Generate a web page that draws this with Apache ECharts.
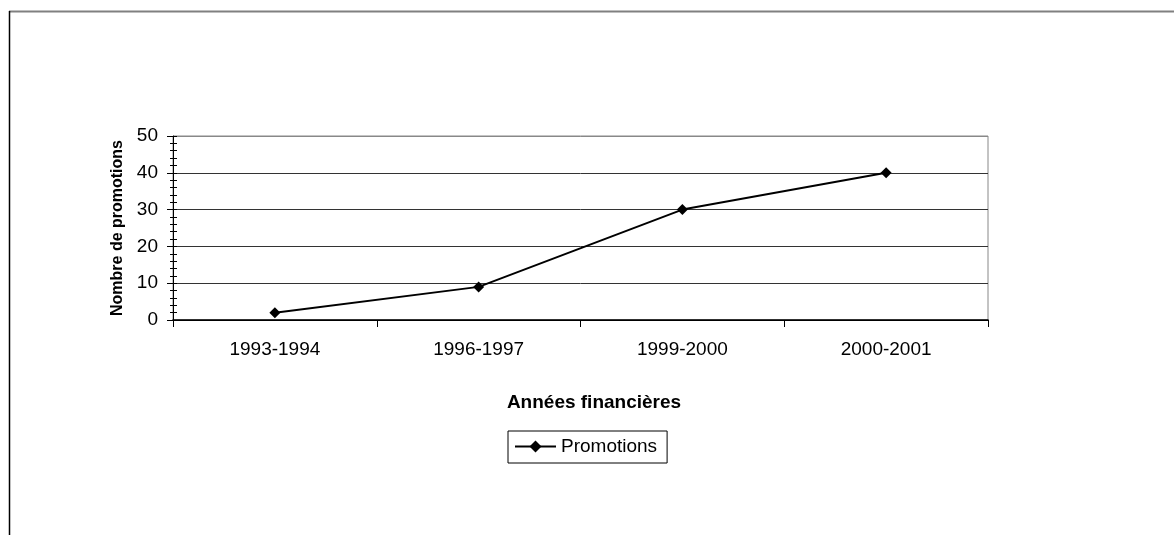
<!DOCTYPE html>
<html>
<head>
<meta charset="utf-8">
<title>Promotions</title>
<script src="https://cdn.jsdelivr.net/npm/echarts@6/dist/echarts.min.js"></script>
<style>
  html, body { margin: 0; padding: 0; background: #fff; }
  #chart { width: 1174px; height: 535px; }
</style>
</head>
<body>
<div id="chart"></div>
<script>
// data
var categories = ['1993-1994', '1996-1997', '1999-2000', '2000-2001'];
var promotions = [2, 9, 30, 40];
var seriesName = 'Promotions';
var yMin = 0, yMax = 50, yStep = 10;

var chart = echarts.init(document.getElementById('chart'));
var font = '"Liberation Sans", Arial, sans-serif';

var option = {
  animation: false,
  textStyle: { fontFamily: font, color: '#000' },
  grid: {
    left: 173, right: 186, top: 136, bottom: 215,
    show: true, borderColor: '#888', borderWidth: 1
  },
  graphic: [
    { type: 'line', shape: { x1: 9, y1: 11.5, x2: 1174, y2: 11.5 }, style: { stroke: '#808080', lineWidth: 2 } },
    { type: 'line', shape: { x1: 9.5, y1: 11, x2: 9.5, y2: 535 }, style: { stroke: '#000', lineWidth: 1.5 } }
  ],
  xAxis: {
    type: 'category',
    data: categories,
    boundaryGap: true,
    name: 'Années financières',
    nameLocation: 'middle',
    nameGap: 73,
    nameTextStyle: { fontFamily: font, fontWeight: 'bold', fontSize: 19, color: '#000', padding: [0, 0, 0, 27] },
    axisLine: { lineStyle: { color: '#000', width: 1.5 } },
    axisTick: { show: true, length: 7, lineStyle: { color: '#000' } },
    axisLabel: { fontFamily: font, fontSize: 19, color: '#000', margin: 20 }
  },
  yAxis: [{
    type: 'value',
    min: yMin, max: yMax, interval: yStep,
    name: 'Nombre de promotions',
    nameLocation: 'middle',
    nameGap: 47,
    nameRotate: 90,
    nameTextStyle: { fontFamily: font, fontWeight: 'bold', fontSize: 16, color: '#000' },
    axisLine: { show: true, lineStyle: { color: '#000', width: 1 } },
    axisTick: { show: true, length: 6, lineStyle: { color: '#000' } },
    minorTick: { show: true, splitNumber: 5, length: 3, lineStyle: { color: '#000' } },
    axisLabel: { fontFamily: font, fontSize: 19, color: '#000', margin: 15 },
    splitLine: { show: true, lineStyle: { color: ['#000', '#333', '#333', '#333', '#333', '#888'], width: 1 } }
  }, {
    type: 'value',
    position: 'left',
    min: yMin, max: yMax, interval: yStep,
    axisLine: { show: false },
    axisLabel: { show: false },
    splitLine: { show: false },
    minorTick: { show: true, splitNumber: 5, length: 4, lineStyle: { color: '#000' } },
    axisTick: { show: true, inside: true, length: 4, lineStyle: { color: '#000' } }
  }],
  legend: {
    left: 508, top: 431,
    data: [seriesName],
    borderColor: '#000', borderWidth: 1, borderRadius: 0,
    padding: [6, 10, 7, 6],
    itemWidth: 41, itemHeight: 15, itemGap: 5,
    textStyle: { fontFamily: font, fontSize: 19, color: '#000' }
  },
  series: [{
    name: seriesName,
    type: 'line',
    data: promotions,
    symbol: 'diamond',
    symbolSize: 11,
    itemStyle: { color: '#000' },
    lineStyle: { color: '#000', width: 2 }
  }]
};
chart.setOption(option);
</script>
</body>
</html>
